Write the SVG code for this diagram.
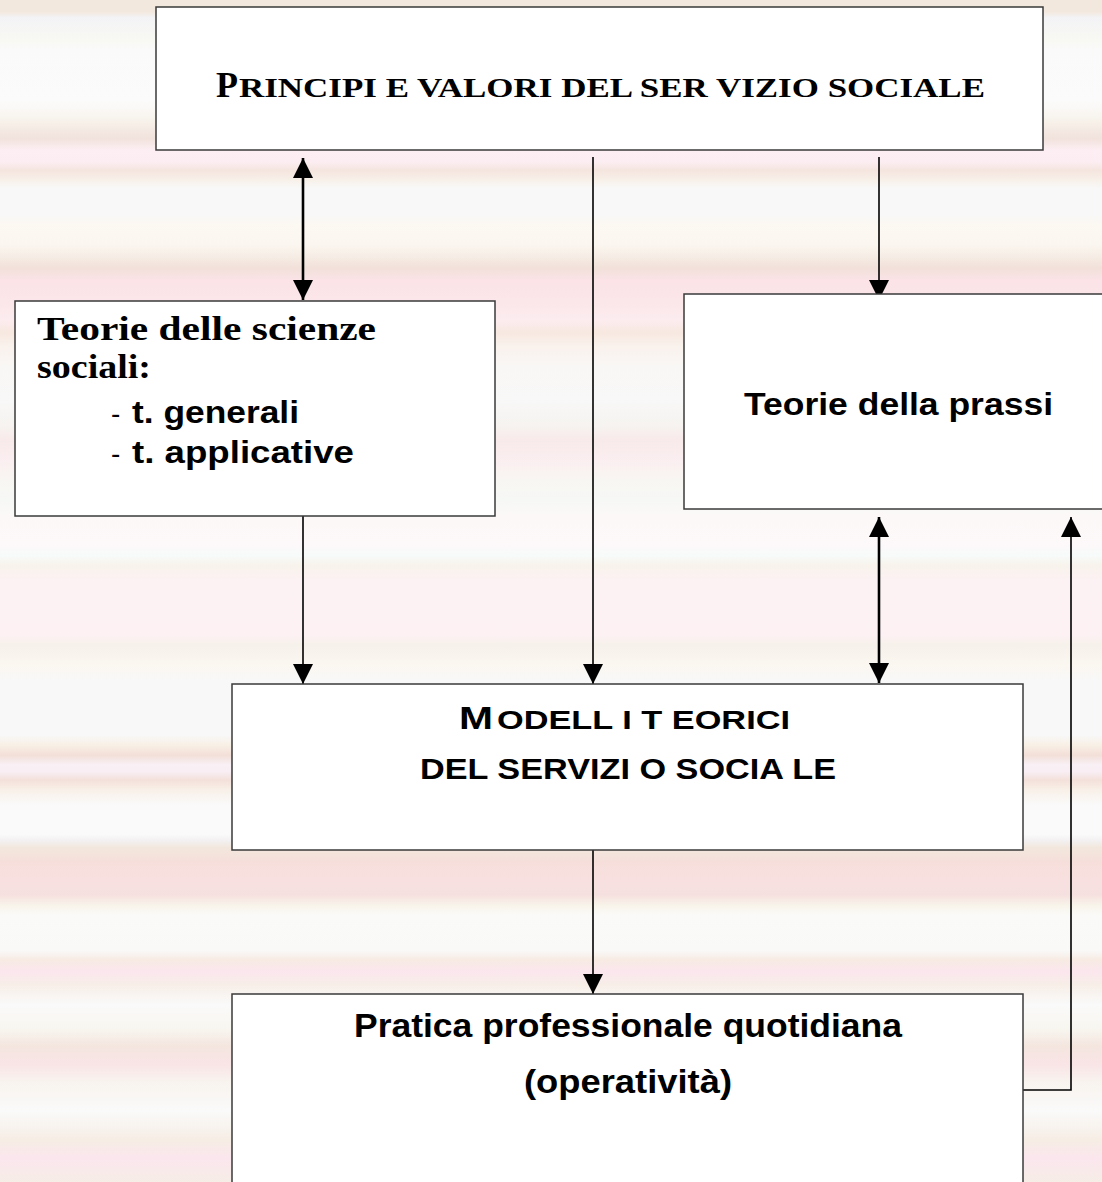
<svg xmlns="http://www.w3.org/2000/svg" width="1102" height="1182" viewBox="0 0 1102 1182">
<defs>
<linearGradient id="bg" gradientUnits="userSpaceOnUse" x1="0" y1="0" x2="0" y2="1182">
<stop offset="0" stop-color="#f3e8de"/>
<stop offset="0.010" stop-color="#f3e8de"/>
<stop offset="0.015" stop-color="#f3f3f6"/>
<stop offset="0.034" stop-color="#f8f9f3"/>
<stop offset="0.042" stop-color="#fafafa"/>
<stop offset="0.085" stop-color="#fbfbfb"/>
<stop offset="0.093" stop-color="#faf8f5"/>
<stop offset="0.103" stop-color="#f7f1ea"/>
<stop offset="0.117" stop-color="#f1e2dc"/>
<stop offset="0.127" stop-color="#fdeef4"/>
<stop offset="0.137" stop-color="#fcedf2"/>
<stop offset="0.144" stop-color="#f5e5df"/>
<stop offset="0.152" stop-color="#f7f0e8"/>
<stop offset="0.159" stop-color="#f8f8f8"/>
<stop offset="0.182" stop-color="#f8f8f8"/>
<stop offset="0.190" stop-color="#fcf8f2"/>
<stop offset="0.207" stop-color="#fbf6f0"/>
<stop offset="0.216" stop-color="#f6eee6"/>
<stop offset="0.227" stop-color="#f2e0da"/>
<stop offset="0.237" stop-color="#fbe3e7"/>
<stop offset="0.254" stop-color="#fbe6e9"/>
<stop offset="0.271" stop-color="#fcecef"/>
<stop offset="0.281" stop-color="#f7e8e0"/>
<stop offset="0.292" stop-color="#f9f1ec"/>
<stop offset="0.309" stop-color="#f9f7f5"/>
<stop offset="0.338" stop-color="#f8f8f8"/>
<stop offset="0.360" stop-color="#f6f3f0"/>
<stop offset="0.372" stop-color="#f8eaea"/>
<stop offset="0.389" stop-color="#fbeef0"/>
<stop offset="0.406" stop-color="#f8f6f2"/>
<stop offset="0.423" stop-color="#f6f8f6"/>
<stop offset="0.436" stop-color="#fcf8f8"/>
<stop offset="0.461" stop-color="#fdf8f9"/>
<stop offset="0.470" stop-color="#f7fbfa"/>
<stop offset="0.478" stop-color="#f8f3ec"/>
<stop offset="0.491" stop-color="#fcf1f3"/>
<stop offset="0.537" stop-color="#fdf1f4"/>
<stop offset="0.546" stop-color="#f6f1ea"/>
<stop offset="0.563" stop-color="#fbf7f1"/>
<stop offset="0.575" stop-color="#f8f8f8"/>
<stop offset="0.622" stop-color="#f8f8f8"/>
<stop offset="0.630" stop-color="#f8f0e6"/>
<stop offset="0.639" stop-color="#f3dfd8"/>
<stop offset="0.647" stop-color="#f8f0f5"/>
<stop offset="0.653" stop-color="#f8eef3"/>
<stop offset="0.660" stop-color="#f3e0da"/>
<stop offset="0.668" stop-color="#f8f0e8"/>
<stop offset="0.681" stop-color="#fafafa"/>
<stop offset="0.706" stop-color="#fafafa"/>
<stop offset="0.711" stop-color="#f3f1f2"/>
<stop offset="0.717" stop-color="#f2e7dd"/>
<stop offset="0.729" stop-color="#f6dfdb"/>
<stop offset="0.745" stop-color="#f8e0e0"/>
<stop offset="0.757" stop-color="#f6e0df"/>
<stop offset="0.766" stop-color="#f8f4ea"/>
<stop offset="0.774" stop-color="#fafaf8"/>
<stop offset="0.804" stop-color="#f9f9f8"/>
<stop offset="0.812" stop-color="#f7ebe3"/>
<stop offset="0.822" stop-color="#fbe6ee"/>
<stop offset="0.833" stop-color="#f7eee7"/>
<stop offset="0.850" stop-color="#fafafa"/>
<stop offset="0.870" stop-color="#f8f6f0"/>
<stop offset="0.885" stop-color="#f4e6df"/>
<stop offset="0.900" stop-color="#f9e4e6"/>
<stop offset="0.915" stop-color="#f8f3ee"/>
<stop offset="0.940" stop-color="#fafafa"/>
<stop offset="0.965" stop-color="#f6ede4"/>
<stop offset="0.980" stop-color="#fbe6ee"/>
<stop offset="1" stop-color="#f6ede6"/>
</linearGradient>
<marker id="ah" markerUnits="userSpaceOnUse" markerWidth="20" markerHeight="20" viewBox="0 0 20 20" refX="20" refY="10" orient="auto-start-reverse">
<path d="M0,0 L20,10 L0,20 Z" fill="#000"/>
</marker>
</defs>
<style>
.box{fill:#fff;stroke:#3a3a3a;stroke-width:1.5}
.ser{font-family:"Liberation Serif","Times New Roman",serif;font-weight:bold;fill:#000}
.san{font-family:"Liberation Sans",Arial,sans-serif;font-weight:bold;fill:#000}
.dash{font-family:"Liberation Sans",Arial,sans-serif;font-weight:normal;fill:#000}
.c{fill:none;stroke:#000}
.thin{stroke-width:1.6}
.thick{stroke-width:2.6}
</style>
<rect x="0" y="0" width="1102" height="1182" fill="url(#bg)"/>

<g id="connectors">
<line class="c thick" x1="303" y1="158" x2="303" y2="300" marker-start="url(#ah)" marker-end="url(#ah)"/>
<line class="c thin" x1="593" y1="157" x2="593" y2="684" marker-end="url(#ah)"/>
<line class="c thin" x1="879" y1="157" x2="879" y2="300" marker-end="url(#ah)"/>
<line class="c thin" x1="303" y1="516" x2="303" y2="684" marker-end="url(#ah)"/>
<line class="c thick" x1="879" y1="517" x2="879" y2="683" marker-start="url(#ah)" marker-end="url(#ah)"/>
<line class="c thin" x1="593" y1="850" x2="593" y2="994" marker-end="url(#ah)"/>
<polyline class="c thin" points="1023,1090 1071,1090 1071,517" marker-end="url(#ah)"/>
</g>

<g id="principi">
<rect class="box" x="156" y="7" width="887" height="143"/>
<text class="ser" x="216" y="97" font-size="36">P</text>
<text class="ser" x="239" y="97" font-size="28" textLength="746" lengthAdjust="spacingAndGlyphs">RINCIPI E VALORI DEL SER VIZIO SOCIALE</text>
</g>

<g id="scienze">
<rect class="box" x="15" y="301" width="480" height="215"/>
<text class="ser" x="37" y="340" font-size="33" textLength="339" lengthAdjust="spacingAndGlyphs">Teorie delle scienze</text>
<text class="ser" x="37" y="378" font-size="33" textLength="114" lengthAdjust="spacingAndGlyphs">sociali:</text>
<text class="dash" x="111" y="423" font-size="28">-</text>
<text class="san" x="132" y="423" font-size="31" textLength="167" lengthAdjust="spacingAndGlyphs">t. generali</text>
<text class="dash" x="111" y="463" font-size="28">-</text>
<text class="san" x="132" y="463" font-size="31" textLength="222" lengthAdjust="spacingAndGlyphs">t. applicative</text>
</g>

<g id="prassi">
<rect class="box" x="684" y="294" width="430" height="215"/>
<text class="san" x="744" y="415" font-size="31" textLength="309" lengthAdjust="spacingAndGlyphs">Teorie della prassi</text>
</g>

<g id="modelli">
<rect class="box" x="232" y="684" width="791" height="166"/>
<text class="san" x="459" y="729" font-size="32" textLength="34" lengthAdjust="spacingAndGlyphs">M</text>
<text class="san" x="497" y="729" font-size="26" textLength="293" lengthAdjust="spacingAndGlyphs">ODELL I T EORICI</text>
<text class="san" x="420" y="779" font-size="29" textLength="416" lengthAdjust="spacingAndGlyphs">DEL SERVIZI O SOCIA LE</text>
</g>

<g id="pratica">
<rect class="box" x="232" y="994" width="791" height="200"/>
<text class="san" x="354" y="1037" font-size="33" textLength="548" lengthAdjust="spacingAndGlyphs">Pratica professionale quotidiana</text>
<text class="san" x="524" y="1093" font-size="33" textLength="208" lengthAdjust="spacingAndGlyphs">(operatività)</text>
</g>
</svg>
